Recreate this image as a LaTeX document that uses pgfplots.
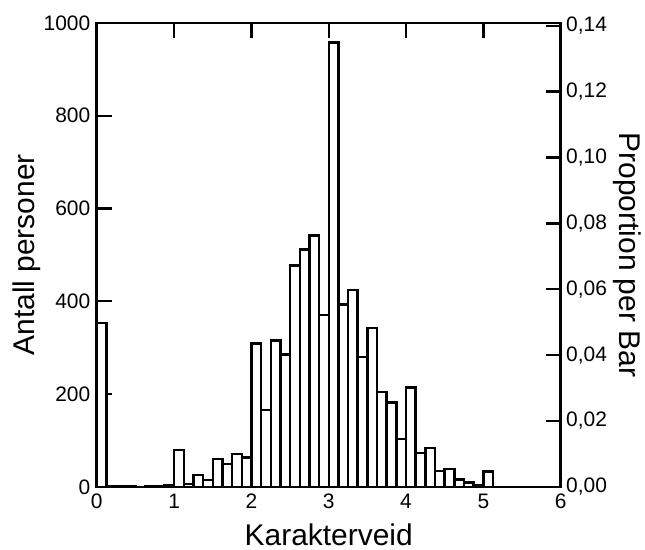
\documentclass[border=0pt]{standalone}
\usepackage{fontspec}
\setmainfont{Liberation Sans}
\usepackage{pgfplots}
\pgfplotsset{compat=1.18}

% Karakterveid histogram, bin width 0.125 (left edges)
\pgfplotstableread{
x     y
0.000 353
0.125 2
0.250 1
0.375 1
0.500 0
0.625 1
0.750 1
0.875 4
1.000 80
1.125 6
1.250 26
1.375 15
1.500 60
1.625 49
1.750 71
1.875 63
2.000 309
2.125 166
2.250 315
2.375 285
2.500 477
2.625 512
2.750 542
2.875 370
3.000 958
3.125 393
3.250 424
3.375 280
3.500 342
3.625 205
3.750 182
3.875 103
4.000 214
4.125 73
4.250 84
4.375 34
4.500 39
4.625 16
4.750 9
4.875 3
5.000 33
5.125 0
5.250 0
5.375 0
5.500 0
5.625 0
5.750 0
5.875 0
6.000 0
}\hist

\pgfplotsset{
  common/.style={
    scale only axis, width=465pt, height=465pt,
    xmin=0, xmax=6,
    axis line style={line width=2.6pt, line cap=rect},
    major tick style={line width=2.4pt, black},
    major tick length=15pt,
    tick align=inside,
    /pgf/number format/assume math mode=true,
    tick label style={font=\fontsize{21}{21}\selectfont},
    label style={font=\fontsize{30}{30}\selectfont},
  }
}

\begin{document}
\begin{tikzpicture}
\begin{axis}[common,
    ymin=0, ymax=1000,
    ytick={0,200,...,1000},
    xtick={0,1,...,6},
    ytick pos=left,
    /pgf/number format/1000 sep={},
    xticklabel style={yshift=-4pt},
    yticklabel style={xshift=-3pt},
    xlabel={Karakterveid},
    xlabel style={at={(axis description cs:0.5,0)}, anchor=north, inner sep=3pt, yshift=-34pt},
    ylabel={Antall personer},
    ylabel shift=-4pt,
    clip=false,
]
\addplot[ybar interval, fill=white, draw=black, line width=2.4pt] table[x=x, y=y] {\hist};
% blank margins as in the reference
\path (rel axis cs:0,1) +(0,23pt);
\path (rel axis cs:0,0.5) +(-97pt,0);
\path (rel axis cs:0.5,0) +(0,-63pt);
\end{axis}
\begin{axis}[common,
    ymin=0, ymax=0.14085,
    hide x axis,
    ytick={0,0.02,0.04,0.06,0.08,0.10,0.12,0.14},
    ytick pos=right,
    yticklabel pos=right,
    yticklabel style={xshift=2pt, /pgf/number format/.cd, fixed, fixed zerofill, precision=2, use comma},
    ylabel={Proportion per Bar},
    ylabel style={rotate=180},
]
\end{axis}
\end{tikzpicture}
\end{document}
